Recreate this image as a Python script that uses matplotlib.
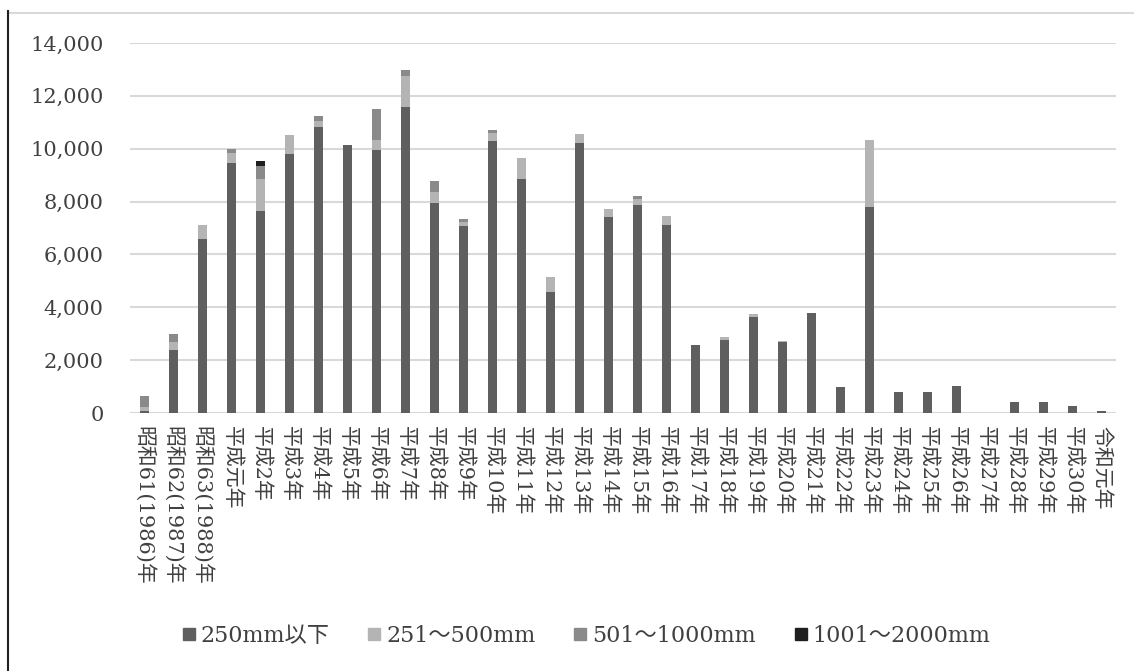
import matplotlib.pyplot as plt
import numpy as np
from matplotlib.lines import Line2D
from matplotlib.ticker import FuncFormatter

plt.rcParams['font.family'] = ['DejaVu Serif', 'Noto Sans CJK JP']

years = ['昭和61(1986)年', '昭和62(1987)年', '昭和63(1988)年', '平成元年'] + \
    ['平成%d年' % n for n in range(2, 31)] + ['令和元年']

# 件数（規模別）
le250 = [80, 2400, 6570, 9450, 7650, 9790, 10810, 10130, 9940, 11590,
         7940, 7060, 10280, 8860, 4570, 10230, 7430, 7880, 7130, 2590,
         2780, 3620, 2700, 3770, 985, 7790, 795, 795, 1037, 0,
         405, 405, 254, 64]
r251_500 = [130, 290, 540, 390, 1210, 710, 240, 0, 380, 1160,
            430, 170, 330, 770, 570, 340, 270, 230, 320, 0,
            110, 130, 40, 0, 0, 2530, 0, 0, 0, 0,
            0, 0, 0, 0]
r501_1000 = [450, 290, 0, 150, 480, 0, 190, 0, 1174, 240,
             390, 100, 100, 0, 0, 0, 0, 90, 0, 0,
             0, 0, 0, 0, 0, 0, 0, 0, 0, 0,
             0, 0, 0, 0]
r1001_2000 = [0, 0, 0, 0, 200, 0, 0, 0, 0, 0,
              0, 0, 0, 0, 0, 0, 0, 0, 0, 0,
              0, 0, 0, 0, 0, 0, 0, 0, 0, 0,
              0, 0, 0, 0]

series = [
    ('250mm以下', le250, '#5f5f5f'),
    ('251～500mm', r251_500, '#b4b4b4'),
    ('501～1000mm', r501_1000, '#8a8a8a'),
    ('1001～2000mm', r1001_2000, '#1f1f1f'),
]

fig = plt.figure(figsize=(11.34, 6.71), dpi=100)
ax = fig.add_axes([0.1146, 0.3845, 0.8694, 0.5515])

x = np.arange(len(years))
bottom = np.zeros(len(years))
for name, vals, color in series:
    vals = np.array(vals, dtype=float)
    ax.bar(x, vals, width=0.32, bottom=bottom, color=color, label=name,
           zorder=3)
    bottom += vals

ax.set_xlim(-0.5, len(years) - 0.5)
ax.set_ylim(0, 14000)
ax.set_yticks(np.arange(0, 14001, 2000))
ax.yaxis.set_major_formatter(FuncFormatter(lambda v, p: f'{int(v):,}'))
ax.grid(axis='y', color='#d9d9d9', linewidth=1.5, zorder=0)
for s in ax.spines.values():
    s.set_visible(False)
ax.tick_params(length=0, colors='#404040', labelsize=15)
ax.tick_params(axis='y', pad=19)
ax.set_xticks(x)
ax.set_xticklabels(years, rotation=-90, va='top', ha='center', fontsize=15)
ax.tick_params(axis='x', pad=9)

handles = [Line2D([], [], marker='s', linestyle='none', markersize=8,
                  color=c) for _, _, c in series]
fig.legend(handles, [s[0] for s in series], loc='center',
           bbox_to_anchor=(0.517, 0.052), ncol=4, frameon=False,
           fontsize=16, handlelength=0.6, handletextpad=0.25,
           columnspacing=1.7, labelcolor='#404040')

# 枠線
fig.add_artist(Line2D([0.007, 1.0], [0.981, 0.981], color='#d9d9d9',
                      linewidth=1.5, transform=fig.transFigure))
fig.add_artist(Line2D([0.007, 0.007], [0.0, 0.983], color='#202020',
                      linewidth=1.5, transform=fig.transFigure))

fig.savefig('out.png', dpi=100)
